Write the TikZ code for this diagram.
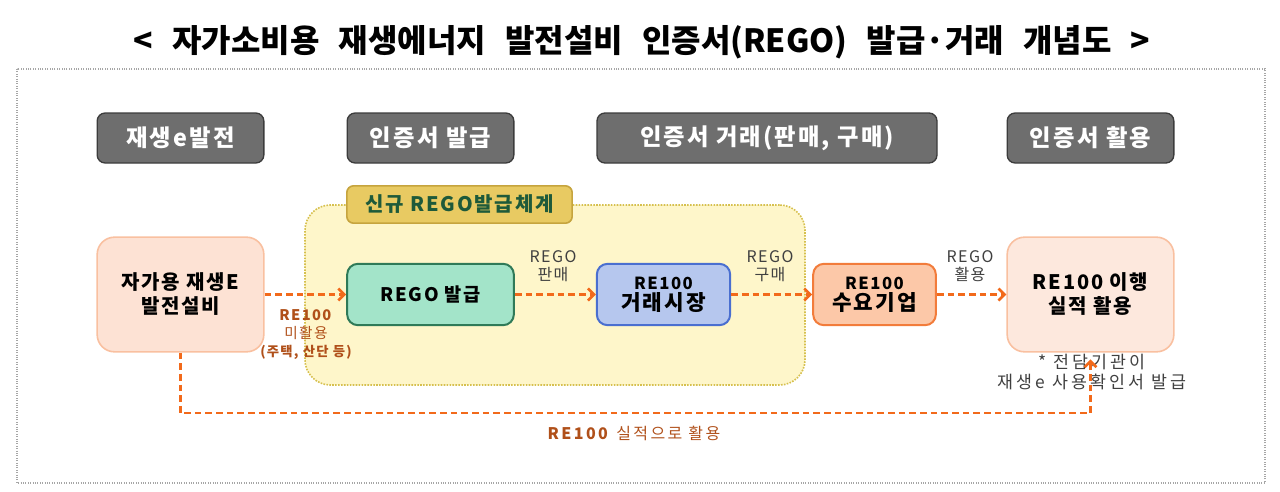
\documentclass[tikz,border=0pt]{standalone}
\usepackage{fontspec}
\setmainfont{Noto Sans CJK KR}[LetterSpace=9]
\usetikzlibrary{arrows.meta,positioning}

\definecolor{hdrfill}{HTML}{6E6E6E}
\definecolor{hdrline}{HTML}{3C3C3C}
\definecolor{zonefill}{HTML}{FEF6CA}
\definecolor{zoneline}{HTML}{D6C04E}
\definecolor{tagfill}{HTML}{E8CA62}
\definecolor{tagline}{HTML}{C6A43E}
\definecolor{tagtext}{HTML}{1E5A3A}
\definecolor{peachfill}{HTML}{FDE2D4}
\definecolor{peachline}{HTML}{F9C0A0}
\definecolor{mintfill}{HTML}{A3E4C9}
\definecolor{mintline}{HTML}{2F7A58}
\definecolor{bluefill}{HTML}{B6C7EE}
\definecolor{blueline}{HTML}{4A6FD0}
\definecolor{orgfill}{HTML}{FCC8A8}
\definecolor{orgline}{HTML}{F27C3B}
\definecolor{flow}{HTML}{F26A1B}
\definecolor{brown}{HTML}{B0501A}
\definecolor{note}{HTML}{404040}

\tikzset{
  hdr/.style={draw=hdrline, fill=hdrfill, line width=1pt, rounded corners=6pt,
    minimum width=125pt, minimum height=37.5pt, text=white,
    font=\fontsize{17.5}{20}\selectfont\bfseries},
  bigbox/.style={draw=peachline, fill=peachfill, line width=1.2pt, rounded corners=13pt,
    minimum width=125pt, minimum height=86pt, align=center,
    font=\fontsize{15}{18}\selectfont\bfseries},
  smallbox/.style={line width=1.5pt, rounded corners=8pt, minimum height=46pt, align=center,
    font=\fontsize{14}{16}\selectfont\bfseries},
  flowarrow/.style={draw=flow, line width=2pt, dash pattern=on 5pt off 3pt,
    -{Straight Barb[length=4.5pt,width=9pt,line width=2pt]}},
  lbl/.style={text=note, align=center, font=\fontsize{12}{13.5}\selectfont}
}

\begin{document}
\begin{tikzpicture}[x=0.75pt,y=-0.75pt]
\useasboundingbox (0,0) rectangle (1280,492);

\node (title) at (642,42) {\fontsize{24}{26}\selectfont\bfseries\addfontfeature{LetterSpace=0}\spaceskip=0.6em
  < 자가소비용 재생에너지 발전설비 인증서(REGO) 발급·거래 개념도 >};
\draw[gray!70, densely dotted, line width=0.8pt] (17,69) rectangle (1265,483);

% headers
\node[hdr] (h1) at (180.5,138) {재생e발전};
\node[hdr] (h2) at (430.5,138) {인증서 발급};
\node[hdr, minimum width=255pt] (h3) at (767,138) {인증서 거래(판매, 구매)};
\node[hdr] (h4) at (1090.5,138) {인증서 활용};

% new REGO zone
\node[draw=zoneline, fill=zonefill, densely dotted, line width=1.2pt, rounded corners=19pt,
  minimum width=375pt, minimum height=135pt] (zone) at (555,295) {};
\node[draw=tagline, fill=tagfill, line width=1.2pt, rounded corners=5pt,
  minimum width=169pt, minimum height=28pt, text=tagtext,
  font=\fontsize{15}{17}\selectfont\bfseries] (tag) at (459.5,204.5) {신규 REGO발급체계};

\node[bigbox] (plant) at (180.5,294.5) {자가용 재생E\\발전설비};
\node[smallbox, draw=mintline, fill=mintfill, minimum width=125pt] (issue) at (430.5,294.5) {REGO 발급};
\node[smallbox, draw=blueline, fill=bluefill, minimum width=100pt] (market) at (663.5,294.5)
  {{\fontsize{12.5}{14}\selectfont RE100}\\{\fontsize{16}{17}\selectfont 거래시장}};
\node[smallbox, draw=orgline, fill=orgfill, minimum width=92pt] (buyer) at (874.5,294.5)
  {{\fontsize{12.5}{14}\selectfont RE100}\\{\fontsize{16}{17}\selectfont 수요기업}};
\node[bigbox, fill=peachfill!80] (use) at (1090.5,294.5) {RE100 이행\\실적 활용};

\node[lbl] (sell) at (553,266) {REGO\\판매};
\node[lbl] (buy) at (770,266) {REGO\\구매};
\node[lbl] (apply) at (970,266) {REGO\\활용};
\node[text=brown, align=center, font=\fontsize{11}{13.5}\selectfont] (unused) at (306,335)
  {\textbf{RE100}\\미활용\\{\fontsize{10}{12}\selectfont\bfseries (주택, 산단 등)}};
\node[lbl, font=\fontsize{13}{14.5}\selectfont\addfontfeature{LetterSpace=18}] (cert) at (1092,372)
  {* 전담기관이\\재생e 사용확인서 발급};
\node[text=brown, font=\fontsize{12}{14}\selectfont\addfontfeature{LetterSpace=15}] (record) at (634,433)
  {\textbf{RE100} 실적으로 활용};

\coordinate (turn) at (180.5,413);
\draw[flowarrow] (plant) -- (issue);
\draw[flowarrow] (issue) -- (market);
\draw[flowarrow] (market) -- (buyer);
\draw[flowarrow] (buyer) -- (use);
\draw[flowarrow] (plant.south) -- (turn) -| ([yshift=-5pt]use.south);
\end{tikzpicture}
\end{document}
